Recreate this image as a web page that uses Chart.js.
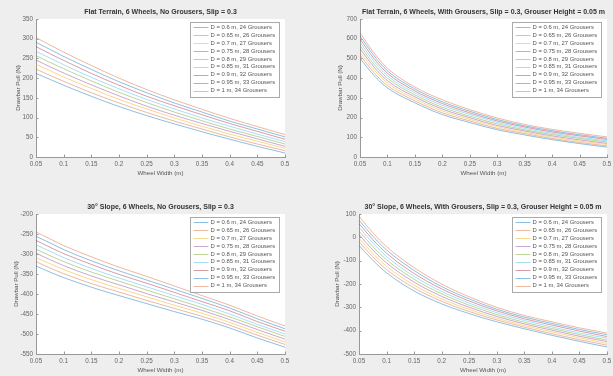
<!DOCTYPE html>
<html>
<head>
<meta charset="utf-8">
<script src="https://cdn.jsdelivr.net/npm/chart.js@4/dist/chart.umd.min.js"></script>
<style>
  html, body { margin: 0; padding: 0; background: #eeeeee; overflow: hidden; width: 613px; height: 376px; }
  canvas { position: absolute; }
</style>
</head>
<body>
<canvas id="c1"></canvas>
<canvas id="c2"></canvas>
<canvas id="c3"></canvas>
<canvas id="c4"></canvas>
<script>
// wheel widths (m) where the curves were read
const widths = [0.05, 0.075, 0.1, 0.15, 0.2, 0.25, 0.3, 0.35, 0.4, 0.45, 0.5];

const labels = [
    'D = 0.6 m, 24 Grousers', 'D = 0.65 m, 26 Grousers', 'D = 0.7 m, 27 Grousers',
    'D = 0.75 m, 28 Grousers', 'D = 0.8 m, 29 Grousers', 'D = 0.85 m, 31 Grousers',
    'D = 0.9 m, 32 Grousers', 'D = 0.95 m, 33 Grousers', 'D = 1 m, 34 Grousers'
];

const xTicks = [0.05, 0.1, 0.15, 0.2, 0.25, 0.3, 0.35, 0.4, 0.45, 0.5];
const yTicksFlatNo = [0, 50, 100, 150, 200, 250, 300, 350];
const yTicksFlatWith = [0, 100, 200, 300, 400, 500, 600, 700];
const yTicksSlopeNo = [-550, -500, -450, -400, -350, -300, -250, -200];
const yTicksSlopeWith = [-500, -400, -300, -200, -100, 0, 100];

// drawbar pull (N), one row per wheel diameter
const flatNoGrousers = [
    [212, 197, 182, 154, 128, 105, 84, 64, 45, 27, 10],
    [223, 207, 192, 163, 137, 113, 91, 71, 51, 33, 16],
    [235, 219, 203, 174, 146, 122, 99, 78, 58, 40, 22],
    [246, 229, 213, 183, 155, 129, 106, 85, 65, 46, 27],
    [257, 240, 224, 193, 164, 138, 114, 92, 71, 52, 33],
    [268, 251, 234, 202, 173, 146, 122, 99, 78, 58, 39],
    [280, 262, 245, 212, 182, 154, 130, 107, 85, 65, 45],
    [291, 273, 255, 222, 191, 163, 137, 114, 91, 71, 51],
    [303, 284, 266, 232, 200, 171, 145, 121, 98, 77, 57]
];

const flatWithGrousers = [
    [500, 415, 350, 275, 215, 175, 138, 112, 88, 68, 50],
    [516, 429, 362, 285, 224, 183, 145, 119, 94, 74, 56],
    [532, 444, 375, 295, 234, 191, 153, 125, 101, 81, 63],
    [549, 458, 387, 305, 243, 199, 160, 132, 107, 87, 69],
    [565, 472, 400, 315, 252, 207, 168, 138, 114, 94, 76],
    [581, 487, 412, 325, 262, 216, 176, 145, 120, 100, 82],
    [598, 501, 425, 335, 271, 224, 183, 152, 127, 107, 89],
    [614, 516, 437, 345, 280, 232, 190, 158, 133, 113, 95],
    [630, 530, 450, 355, 290, 240, 198, 165, 140, 120, 102]
];

const slopeNoGrousers = [
    [-330, -345, -359, -383, -404, -424, -444, -463, -485, -510, -533],
    [-319, -335, -349, -374, -395, -416, -436, -456, -478, -503, -526],
    [-309, -324, -339, -364, -386, -407, -428, -448, -471, -496, -520],
    [-298, -314, -329, -355, -377, -399, -420, -441, -464, -489, -513],
    [-288, -304, -319, -345, -368, -390, -412, -434, -457, -482, -506],
    [-277, -293, -309, -336, -360, -382, -404, -426, -450, -476, -500],
    [-266, -283, -299, -326, -351, -373, -396, -419, -442, -469, -493],
    [-256, -272, -289, -317, -342, -365, -388, -411, -435, -462, -487],
    [-245, -262, -279, -307, -333, -356, -380, -404, -428, -455, -480]
];

const slopeWithGrousers = [
    [-35, -98, -152, -230, -285, -327, -362, -392, -420, -446, -470],
    [-19, -83, -138, -217, -274, -318, -354, -385, -413, -439, -462],
    [-4, -69, -124, -205, -264, -309, -347, -378, -405, -431, -455],
    [12, -54, -110, -192, -253, -300, -339, -371, -398, -424, -447],
    [27, -39, -96, -180, -242, -291, -331, -364, -391, -417, -440],
    [43, -24, -82, -167, -232, -282, -323, -356, -384, -410, -432],
    [59, -10, -68, -155, -221, -273, -315, -349, -376, -402, -425],
    [74, 5, -54, -142, -211, -264, -308, -342, -369, -395, -417],
    [90, 20, -40, -130, -200, -255, -300, -335, -362, -388, -410]
];

// faded matlab line colours
const colors = [
    'rgba(0,114,189,0.45)', 'rgba(217,83,25,0.42)', 'rgba(237,177,32,0.5)',
    'rgba(126,47,142,0.42)', 'rgba(119,172,48,0.5)', 'rgba(77,190,238,0.5)',
    'rgba(162,20,47,0.42)', 'rgba(0,114,189,0.45)', 'rgba(217,83,25,0.42)'
];

const FONT = '"Liberation Sans", Arial, sans-serif';

// white axes background
const bgPlugin = {
    id: 'bg',
    beforeDraw(chart) {
        const a = chart.chartArea, ctx = chart.ctx;
        ctx.save();
        ctx.fillStyle = '#ffffff';
        ctx.fillRect(a.left, a.top, a.right - a.left, a.bottom - a.top);
        ctx.restore();
    }
};

// inward tick marks, like matlab
const tickPlugin = {
    id: 'inTicks',
    afterDraw(chart) {
        const ctx = chart.ctx, a = chart.chartArea;
        const xs = chart.scales.x, ys = chart.scales.y;
        ctx.save();
        ctx.strokeStyle = '#999';
        ctx.lineWidth = 1;
        ctx.beginPath();
        xs.ticks.forEach(t => {
            const x = Math.round(xs.getPixelForValue(t.value)) + 0.5;
            ctx.moveTo(x, a.bottom);
            ctx.lineTo(x, a.bottom - 2.5);
        });
        ys.ticks.forEach(t => {
            const y = Math.round(ys.getPixelForValue(t.value)) + 0.5;
            ctx.moveTo(a.left, y);
            ctx.lineTo(a.left + 2.5, y);
        });
        ctx.stroke();
        ctx.restore();
    }
};

// legend box in the upper right of the axes
const legendPlugin = {
    id: 'boxLegend',
    afterDraw(chart) {
        const ctx = chart.ctx, a = chart.chartArea;
        const w = 89, h = 75;
        const x0 = Math.round(a.right - 95) + 0.5, y0 = Math.round(a.top + 3) + 0.5;
        ctx.save();
        ctx.fillStyle = '#ffffff';
        ctx.fillRect(x0, y0, w, h);
        ctx.strokeStyle = '#aaaaaa';
        ctx.lineWidth = 1;
        ctx.strokeRect(x0, y0, w, h);
        ctx.font = '5.9px ' + FONT;
        ctx.textBaseline = 'middle';
        ctx.fillStyle = '#555';
        chart.data.datasets.forEach((ds, i) => {
            const y = y0 + 4.8 + i * 7.9;
            ctx.strokeStyle = ds.borderColor;
            ctx.beginPath();
            ctx.moveTo(x0 + 3, Math.round(y) + 0.5);
            ctx.lineTo(x0 + 18, Math.round(y) + 0.5);
            ctx.stroke();
            ctx.fillText(ds.label, x0 + 20, y);
        });
        ctx.restore();
    }
};

function makeChart(id, p, title, yTicks, series) {
    const el = document.getElementById(id);
    const left = p.left - 36, top = p.top - 19;
    const w = p.right + 10 - left, h = p.bottom + 24 - top;
    el.style.left = left + 'px';
    el.style.top = top + 'px';
    el.width = w;
    el.height = h;

    const datasets = series.map((s, i) => ({
        label: labels[i],
        data: s.map((v, j) => ({ x: widths[j], y: v })),
        borderColor: colors[i],
        borderWidth: 1,
        pointRadius: 0,
        fill: false,
        cubicInterpolationMode: 'monotone'
    }));

    return new Chart(el, {
        type: 'line',
        data: { datasets: datasets },
        options: {
            responsive: false,
            animation: false,
            devicePixelRatio: 1,
            layout: { padding: { left: 0, right: 10, top: 0, bottom: 0 } },
            plugins: {
                legend: { display: false },
                tooltip: { enabled: false },
                title: {
                    display: true,
                    text: title,
                    fullSize: false,
                    color: '#333',
                    font: { family: FONT, size: 7, weight: 'bold' },
                    padding: { top: 7.6, bottom: 3 }
                }
            },
            scales: {
                x: {
                    type: 'linear',
                    min: 0.05,
                    max: 0.5,
                    grid: { display: false, drawTicks: false },
                    border: { display: true, color: '#999' },
                    afterBuildTicks: s => { s.ticks = xTicks.map(v => ({ value: v })); },
                    afterFit: s => { s.height = 24; },
                    ticks: {
                        color: '#666',
                        font: { family: FONT, size: 6.3 },
                        padding: 3,
                        maxRotation: 0,
                        autoSkip: false,
                        callback: v => String(+v.toFixed(2))
                    },
                    title: {
                        display: true,
                        text: 'Wheel Width (m)',
                        color: '#555',
                        font: { family: FONT, size: 6.2 },
                        padding: { top: 0, bottom: 4.2 }
                    }
                },
                y: {
                    type: 'linear',
                    min: yTicks[0],
                    max: yTicks[yTicks.length - 1],
                    grid: { display: false, drawTicks: false },
                    border: { display: true, color: '#999' },
                    afterBuildTicks: s => { s.ticks = yTicks.map(v => ({ value: v })); },
                    afterFit: s => { s.width = 36; },
                    ticks: {
                        color: '#666',
                        font: { family: FONT, size: 6.3 },
                        padding: 3,
                        autoSkip: false
                    },
                    title: {
                        display: true,
                        text: 'Drawbar Pull (N)',
                        color: '#555',
                        font: { family: FONT, size: 6.2 },
                        padding: { top: p.yLabel - left - 3.8, bottom: 0 }
                    }
                }
            }
        },
        plugins: [bgPlugin, legendPlugin, tickPlugin]
    });
}

makeChart('c1', { left: 36, right: 285, top: 19, bottom: 157, yLabel: 18 },
    'Flat Terrain, 6 Wheels, No Grousers, Slip = 0.3', yTicksFlatNo, flatNoGrousers);
makeChart('c2', { left: 360, right: 607, top: 19, bottom: 157, yLabel: 340 },
    'Flat Terrain, 6 Wheels, With Grousers, Slip = 0.3, Grouser Height = 0.05 m', yTicksFlatWith, flatWithGrousers);
makeChart('c3', { left: 36, right: 285, top: 214, bottom: 354, yLabel: 16 },
    '30\u00b0 Slope, 6 Wheels, No Grousers, Slip = 0.3', yTicksSlopeNo, slopeNoGrousers);
makeChart('c4', { left: 359, right: 607, top: 214, bottom: 354, yLabel: 337 },
    '30\u00b0 Slope, 6 Wheels, With Grousers, Slip = 0.3, Grouser Height = 0.05 m', yTicksSlopeWith, slopeWithGrousers);
</script>
</body>
</html>
